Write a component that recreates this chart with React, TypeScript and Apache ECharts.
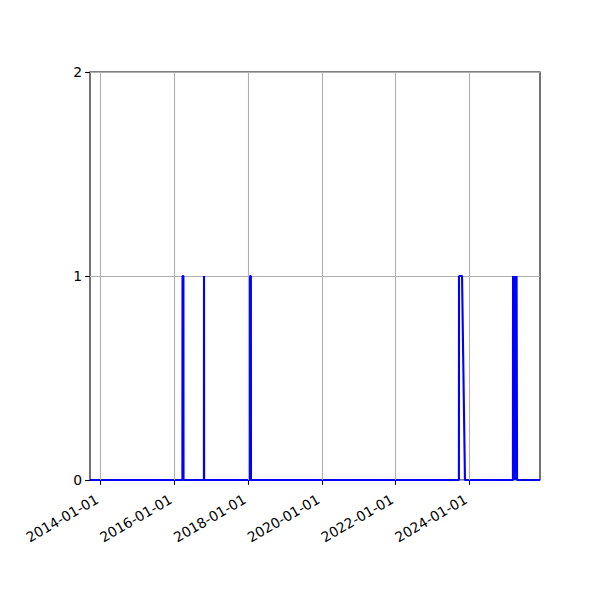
import React, { useEffect, useRef } from "react";
import * as echarts from "echarts";

// Dates where the signal changes (daily 0/1 series)
const dates: string[] = [
  "2013-09-19",
  "2016-03-22", "2016-03-23", "2016-04-01", "2016-04-02",
  "2016-10-21", "2016-10-22", "2016-10-23",
  "2018-01-20", "2018-01-21", "2018-01-29", "2018-01-30",
  "2023-09-20", "2023-09-21", "2023-10-21", "2023-11-19",
  "2025-03-08", "2025-03-09", "2025-03-12", "2025-03-14", "2025-03-17", "2025-03-19",
  "2025-03-22", "2025-03-24", "2025-03-27", "2025-03-29", "2025-04-01", "2025-04-03",
  "2025-04-06", "2025-04-08", "2025-04-11", "2025-04-13", "2025-04-17", "2025-04-18",
  "2025-12-01",
];
const values: number[] = [
  0,
  0, 1, 1, 0,
  0, 1, 0,
  0, 1, 1, 0,
  0, 1, 1, 0,
  0, 1, 0, 1, 0, 1,
  0, 1, 0, 1, 0, 1,
  0, 1, 0, 1, 1, 0,
  0,
];
const xTickLabels: string[] = ["2014-01-01", "2016-01-01", "2018-01-01", "2020-01-01", "2022-01-01", "2024-01-01"];
const yTicks: number[] = [0, 1, 2];
const xMin = "2013-09-19";
const xMax = "2025-12-01";

const ts = (d: string) => Date.parse(d);
const fmt = (v: number) => {
  const d = new Date(v);
  const p = (n: number) => String(n).padStart(2, "0");
  return `${d.getUTCFullYear()}-${p(d.getUTCMonth() + 1)}-${p(d.getUTCDate())}`;
};

const FONT = "DejaVu Sans";
const FS = 13.9;

export default function App() {
  const ref = useRef<HTMLDivElement>(null);
  useEffect(() => {
    document.body.style.margin = "0";
    const chart = echarts.init(ref.current!, null, { renderer: "svg" });
    const tickVals = xTickLabels.map(ts);
    chart.setOption({
      animation: false,
      backgroundColor: "#ffffff",
      grid: {
        left: 90,
        right: 60,
        top: 72,
        bottom: 120,
        show: true,
        borderColor: "#000000",
        borderWidth: 1.1,
        backgroundColor: "transparent",
      },
      xAxis: {
        type: "value",
        min: ts(xMin),
        max: ts(xMax),
        axisLine: { show: false },
        axisTick: { show: true, customValues: tickVals, length: 4.9, lineStyle: { color: "#000", width: 1.1 } },
        axisLabel: {
          customValues: tickVals,
          rotate: 30,
          margin: 16,
          padding: [0, 4, 0, 0],
          formatter: (v: number) => fmt(v),
          fontFamily: FONT,
          fontSize: FS,
          color: "#000000",
        },
        splitLine: { show: false },
      },
      yAxis: {
        type: "value",
        min: yTicks[0],
        max: yTicks[yTicks.length - 1],
        interval: 1,
        axisLine: { show: false },
        axisTick: { show: true, length: 4.9, lineStyle: { color: "#000", width: 1.1 } },
        axisLabel: { margin: 8, fontFamily: FONT, fontSize: FS, color: "#000000" },
        splitLine: { show: true, lineStyle: { color: "#b0b0b0", width: 1.1 } },
      },
      series: [
        {
          type: "line",
          data: [],
          z: 1,
          silent: true,
          markLine: {
            silent: true,
            symbol: ["none", "none"],
            label: { show: false },
            lineStyle: { color: "#b0b0b0", width: 1.1, type: "solid" },
            data: tickVals.map((v) => ({ xAxis: v })),
          },
        },
        {
          type: "line",
          z: 3,
          showSymbol: false,
          data: dates.map((d, i) => [ts(d), values[i]]),
          lineStyle: { color: "#0000ff", width: 2.1 },
          itemStyle: { color: "#0000ff" },
        },
      ],
    });
    return () => chart.dispose();
  }, []);
  return <div ref={ref} style={{ width: 600, height: 600 }} />;
}
